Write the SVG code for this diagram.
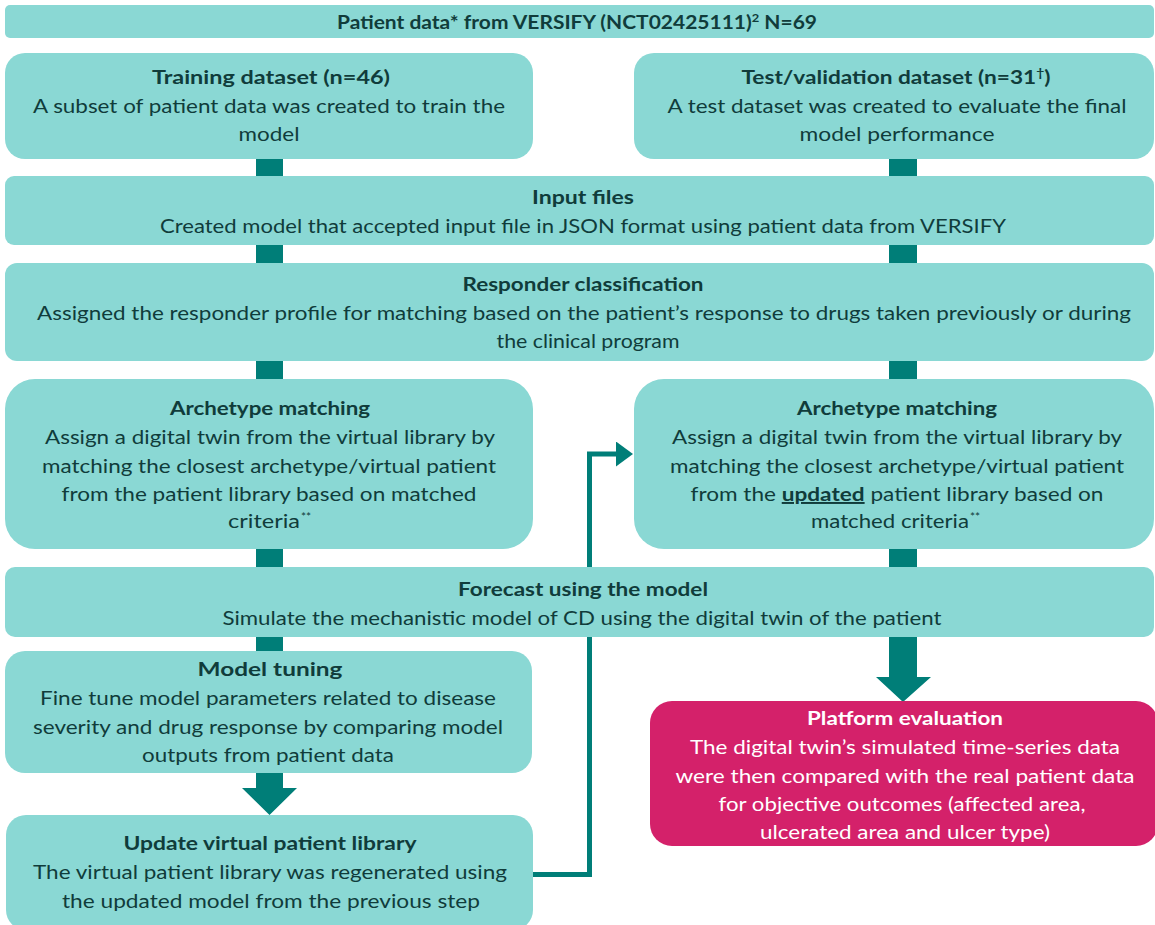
<svg xmlns="http://www.w3.org/2000/svg" width="1155" height="925" viewBox="0 0 1155 925">
<style>
.box{fill:#8AD8D4;}
.pink{fill:#D4216A;}
.t{font-family:Lato,"Liberation Sans",sans-serif;font-size:19.5px;fill:#103C3B;text-anchor:middle;}
.sup{font-family:Lato,"Liberation Sans",sans-serif;font-size:12px;fill:#103C3B;text-anchor:start;}
.b{font-weight:bold;}
.w{fill:#FFFFFF;}
.conn{fill:#007E78;}
.line{fill:none;stroke:#007E78;stroke-width:5;}
</style>
<defs>
<marker id="ah" markerWidth="4" markerHeight="5" refX="0" refY="2.5" orient="auto" markerUnits="strokeWidth">
<path d="M0,0 L3.4,2.5 L0,5 Z" fill="#007E78"/>
</marker>
</defs>
<rect width="1155" height="925" fill="#FFFFFF"/>
<g id="connectors">
<rect class="conn" x="256" y="150" width="27" height="510"/>
<rect class="conn" x="889" y="150" width="28" height="425"/>
<path class="conn" d="M256,765 H283 V788 H297 L269.5,815 L242,788 H256 Z"/>
<path class="conn" d="M889,630 H917 V677 H931 L903,702 L876,677 H889 Z"/>
<path class="line" d="M533,874.5 H589.5 V454 H616" marker-end="url(#ah)"/>
</g>
<g id="top">
<rect class="box" x="5" y="5" width="1149" height="33" rx="5"/>
<text class="t b" x="577" y="29" textLength="480" lengthAdjust="spacingAndGlyphs">Patient data* from VERSIFY (NCT02425111)<tspan dy="-7" font-size="12">2</tspan><tspan dy="7"> N=69</tspan></text>
</g>
<g id="training">
<rect class="box" x="5" y="53" width="528" height="106" rx="20"/>
<text class="t b" x="271" y="84" textLength="238" lengthAdjust="spacingAndGlyphs">Training dataset (n=46)</text>
<text class="t" x="269" y="113" textLength="472" lengthAdjust="spacingAndGlyphs">A subset of patient data was created to train the</text>
<text class="t" x="269" y="141" textLength="61" lengthAdjust="spacingAndGlyphs">model</text>
</g>
<g id="test">
<rect class="box" x="634" y="53" width="520" height="106" rx="20"/>
<text class="t b" x="896" y="84" textLength="309" lengthAdjust="spacingAndGlyphs">Test/validation dataset (n=31<tspan dy="-7" font-size="12">†</tspan><tspan dy="7">)</tspan></text>
<text class="t" x="897" y="113" textLength="459" lengthAdjust="spacingAndGlyphs">A test dataset was created to evaluate the final</text>
<text class="t" x="897" y="141" textLength="195" lengthAdjust="spacingAndGlyphs">model performance</text>
</g>
<g id="input">
<rect class="box" x="5" y="176" width="1149" height="69" rx="9"/>
<text class="t b" x="583" y="204" textLength="102" lengthAdjust="spacingAndGlyphs">Input files</text>
<text class="t" x="583" y="233" textLength="846" lengthAdjust="spacingAndGlyphs">Created model that accepted input file in JSON format using patient data from VERSIFY</text>
</g>
<g id="responder">
<rect class="box" x="5" y="263" width="1149" height="98" rx="12"/>
<text class="t b" x="583" y="291" textLength="241" lengthAdjust="spacingAndGlyphs">Responder classification</text>
<text class="t" x="584" y="320" textLength="1094" lengthAdjust="spacingAndGlyphs">Assigned the responder profile for matching based on the patient’s response to drugs taken previously or during</text>
<text class="t" x="588" y="348" textLength="183" lengthAdjust="spacingAndGlyphs">the clinical program</text>
</g>
<g id="archetype-left">
<rect class="box" x="5" y="379" width="528" height="170" rx="30"/>
<text class="t b" x="270" y="415" textLength="200" lengthAdjust="spacingAndGlyphs">Archetype matching</text>
<text class="t" x="270" y="444" textLength="450" lengthAdjust="spacingAndGlyphs">Assign a digital twin from the virtual library by</text>
<text class="t" x="269" y="473" textLength="454" lengthAdjust="spacingAndGlyphs">matching the closest archetype/virtual patient</text>
<text class="t" x="269" y="501" textLength="415" lengthAdjust="spacingAndGlyphs">from the patient library based on matched</text>
<text class="t" x="264" y="528" textLength="72" lengthAdjust="spacingAndGlyphs">criteria</text>
<text class="sup" x="301" y="521">**</text>
</g>
<g id="archetype-right">
<rect class="box" x="634" y="379" width="520" height="170" rx="30"/>
<text class="t b" x="897" y="415" textLength="200" lengthAdjust="spacingAndGlyphs">Archetype matching</text>
<text class="t" x="897" y="444" textLength="450" lengthAdjust="spacingAndGlyphs">Assign a digital twin from the virtual library by</text>
<text class="t" x="897" y="473" textLength="454" lengthAdjust="spacingAndGlyphs">matching the closest archetype/virtual patient</text>
<text class="t" x="897" y="501" textLength="413" lengthAdjust="spacingAndGlyphs">from the <tspan class="b" text-decoration="underline">updated</tspan> patient library based on</text>
<text class="t" x="890" y="528" textLength="158" lengthAdjust="spacingAndGlyphs">matched criteria</text>
<text class="sup" x="970" y="521">**</text>
</g>
<g id="forecast">
<rect class="box" x="5" y="567" width="1149" height="70" rx="10"/>
<text class="t b" x="583" y="596" textLength="250" lengthAdjust="spacingAndGlyphs">Forecast using the model</text>
<text class="t" x="582" y="625" textLength="719" lengthAdjust="spacingAndGlyphs">Simulate the mechanistic model of CD using the digital twin of the patient</text>
</g>
<g id="tuning">
<rect class="box" x="5" y="651" width="527" height="122" rx="20"/>
<text class="t b" x="270" y="676" textLength="145" lengthAdjust="spacingAndGlyphs">Model tuning</text>
<text class="t" x="268" y="705" textLength="456" lengthAdjust="spacingAndGlyphs">Fine tune model parameters related to disease</text>
<text class="t" x="268" y="734" textLength="470" lengthAdjust="spacingAndGlyphs">severity and drug response by comparing model</text>
<text class="t" x="268" y="762" textLength="252" lengthAdjust="spacingAndGlyphs">outputs from patient data</text>
</g>
<g id="update">
<rect class="box" x="6" y="815" width="527" height="115" rx="20"/>
<text class="t b" x="270" y="850" textLength="293" lengthAdjust="spacingAndGlyphs">Update virtual patient library</text>
<text class="t" x="270" y="879" textLength="474" lengthAdjust="spacingAndGlyphs">The virtual patient library was regenerated using</text>
<text class="t" x="271" y="908" textLength="418" lengthAdjust="spacingAndGlyphs">the updated model from the previous step</text>
</g>
<g id="platform">
<rect class="pink" x="650" y="701" width="508" height="145" rx="22"/>
<text class="t b w" x="905" y="725" textLength="196" lengthAdjust="spacingAndGlyphs">Platform evaluation</text>
<text class="t w" x="905" y="754" textLength="430" lengthAdjust="spacingAndGlyphs">The digital twin’s simulated time-series data</text>
<text class="t w" x="905" y="783" textLength="459" lengthAdjust="spacingAndGlyphs">were then compared with the real patient data</text>
<text class="t w" x="902" y="811" textLength="367" lengthAdjust="spacingAndGlyphs">for objective outcomes (affected area,</text>
<text class="t w" x="905" y="839" textLength="290" lengthAdjust="spacingAndGlyphs">ulcerated area and ulcer type)</text>
</g>
</svg>
